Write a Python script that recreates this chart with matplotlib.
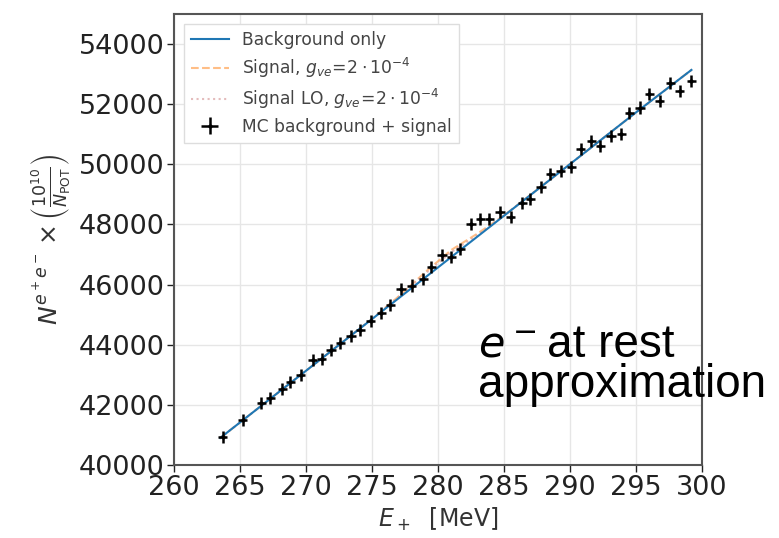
import matplotlib
matplotlib.use("Agg")
import matplotlib.pyplot as plt
import numpy as np

# Data
energy = [263.7, 265.2, 266.6, 267.3, 268.2, 268.8, 269.6, 270.5, 271.2, 271.9,
          272.6, 273.4, 274.1, 274.9, 275.7, 276.4, 277.2, 278.0, 278.9, 279.5,
          280.3, 281.0, 281.7, 282.5, 283.2, 283.9, 284.7, 285.5, 286.4, 287.0,
          287.8, 288.5, 289.3, 290.1, 290.8, 291.6, 292.3, 293.1, 293.9, 294.5,
          295.3, 296.0, 296.8, 297.6, 298.3, 299.2]
counts = [40940, 41490, 42050, 42230, 42540, 42760, 42990, 43480, 43510, 43820,
          44050, 44300, 44500, 44780, 45050, 45310, 45860, 45970, 46190, 46580,
          46970, 46910, 47190, 48020, 48180, 48180, 48400, 48260, 48720, 48850,
          49240, 49680, 49790, 49900, 50510, 50780, 50620, 50950, 51000, 51720,
          51890, 52330, 52110, 52720, 52440, 52770]
count_err = 200
energy_err = 0.35

line_x = [263.5, 270, 275, 277, 279, 281, 283, 285, 290, 295, 299.2]
bkg_y = [40900, 43134, 44853, 45540, 46227, 46915, 47602, 48290, 50008, 51727, 53140]
sig_y = [40900, 43134, 44860, 45600, 46400, 47150, 47700, 48300, 50008, 51727, 53140]
siglo_y = [40900, 43134, 44858, 45580, 46350, 47080, 47650, 48295, 50008, 51727, 53140]

xticks = [260, 265, 270, 275, 280, 285, 290, 295, 300]
yticks = [40000, 42000, 44000, 46000, 48000, 50000, 52000, 54000]

W, H = 779, 538
fig = plt.figure(figsize=(W / 100, H / 100), dpi=100)
left, right, top, bottom = 174, 702, 14, 465
ax = fig.add_axes([left / W, 1 - bottom / H, (right - left) / W, (bottom - top) / H])

ax.plot(line_x, bkg_y, color="#1f77b4", lw=1.5, label="Background only", zorder=3)
ax.plot(line_x, sig_y, color="#ff7f0e", lw=1.5, ls="--", alpha=0.5,
        label=r"Signal, $g_{ve}\!=\!2\cdot10^{-4}$", zorder=2)
ax.plot(line_x, siglo_y, color="#d9a0a0", lw=1.5, ls=":", alpha=0.7,
        label=r"Signal LO, $g_{ve}\!=\!2\cdot10^{-4}$", zorder=2)
ax.errorbar(energy, counts, xerr=energy_err, yerr=count_err, fmt="k.", ms=4,
            elinewidth=1.8, capsize=0, label="MC background + signal", zorder=4)

ax.set_xlim(260, 300)
ax.set_ylim(40000, 55000)
ax.set_xticks(xticks)
ax.set_yticks(yticks)
ax.tick_params(labelsize=19.5, colors="#222222", length=5, width=1, pad=2)
ax.grid(True, color="#e6e6e6", lw=1)
ax.set_axisbelow(True)
for s in ax.spines.values():
    s.set_color("#555555")
    s.set_linewidth(1.5)

ax.set_xlabel(r"$E_+$  [MeV]", fontsize=17, color="#333333", labelpad=4)
ax.set_ylabel(r"$N^{e^+e^-}\times\left(\frac{10^{10}}{N_{\mathrm{POT}}}\right)$",
              fontsize=18, color="#333333", labelpad=4)

leg = ax.legend(loc="upper left", fontsize=12.3, frameon=True, framealpha=1,
                edgecolor="#dddddd", fancybox=False, borderaxespad=0.6,
                handlelength=2.2, labelspacing=0.4)
for t in leg.get_texts():
    t.set_color("#444444")

fig.text(478 / W, 1 - 357 / H, r"$e^-$", fontsize=31, family="DejaVu Serif",
         va="baseline", ha="left")
fig.text(547 / W, 1 - 357 / H, "at rest", fontsize=33, family="Liberation Sans",
         va="baseline", ha="left")
fig.text(478 / W, 1 - 397 / H, "approximation", fontsize=33, family="Liberation Sans",
         va="baseline", ha="left")

fig.savefig("out.png", dpi=100)
